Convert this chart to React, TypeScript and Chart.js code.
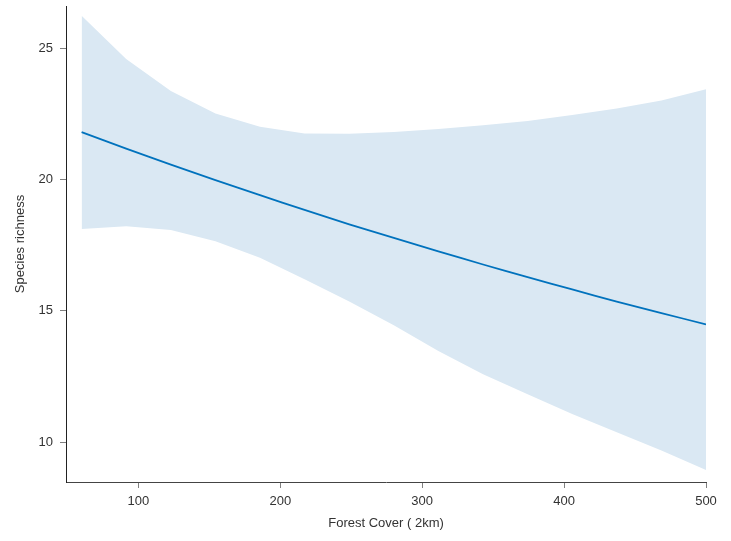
import React, { useEffect, useRef } from "react";
import { Chart, registerables } from "chart.js";

Chart.register(...registerables);

// Forest cover (2km) sample positions
const forestCover = [60, 91.4, 122.9, 154.3, 185.7, 217.1, 248.6, 280, 311.4, 342.9, 374.3, 405.7, 437.1, 468.6, 500];
// Fitted species richness
const fitted = [21.8, 21.17, 20.56, 19.97, 19.4, 18.84, 18.29, 17.77, 17.26, 16.76, 16.28, 15.81, 15.35, 14.91, 14.48];
// Confidence band
const upperCI = [26.23, 24.58, 23.36, 22.51, 22.0, 21.75, 21.74, 21.8, 21.92, 22.06, 22.22, 22.45, 22.7, 23.0, 23.43];
const lowerCI = [18.11, 18.22, 18.07, 17.64, 17.02, 16.2, 15.35, 14.45, 13.47, 12.58, 11.82, 11.07, 10.37, 9.68, 8.94];
// Tick labels
const xTicks = [100, 200, 300, 400, 500];
const yTicks = [10, 15, 20, 25];

const LINE = "rgb(0,114,189)";
const BAND = "rgb(218,232,243)";
const FONT = "'Liberation Sans', Arial, Helvetica, sans-serif";

export default function App() {
  const ref = useRef<HTMLCanvasElement | null>(null);

  useEffect(() => {
    if (!ref.current) return;
    const pts = (ys: number[]) => forestCover.map((x, i) => ({ x, y: ys[i] }));
    const chart = new Chart(ref.current, {
      type: "line",
      data: {
        datasets: [
          {
            label: "fit",
            data: pts(fitted),
            borderColor: LINE,
            borderWidth: 1.8,
            pointRadius: 0,
            tension: 0.3,
            fill: false,
          },
          {
            label: "lower",
            data: pts(lowerCI),
            borderWidth: 0,
            borderColor: "rgba(0,0,0,0)",
            pointRadius: 0,
            tension: 0,
            fill: false,
          },
          {
            label: "upper",
            data: pts(upperCI),
            borderWidth: 0,
            borderColor: "rgba(0,0,0,0)",
            backgroundColor: BAND,
            pointRadius: 0,
            tension: 0,
            fill: "-1",
          },
        ],
      },
      options: {
        responsive: false,
        animation: false,
        layout: { padding: { top: 6, right: 25, left: 0, bottom: 0 } },
        plugins: {
          legend: { display: false },
          tooltip: { enabled: false },
        },
        scales: {
          x: {
            type: "linear",
            min: 49,
            max: 500,
            afterBuildTicks: (s: any) => {
              s.ticks = xTicks.map((v) => ({ value: v }));
            },
            afterFit: (s: any) => {
              s.height = 59;
              s.paddingLeft = 0;
              s.paddingRight = 0;
            },
            grid: {
              display: true,
              drawOnChartArea: false,
              drawTicks: true,
              tickLength: 6,
              color: "#808080",
            },
            border: { display: true, color: "#444", width: 1 },
            ticks: {
              padding: 6,
              color: "#333",
              font: { family: FONT, size: 13 },
              maxRotation: 0,
            },
            title: {
              display: true,
              text: "Forest Cover ( 2km)",
              color: "#333",
              font: { family: FONT, size: 13 },
              padding: { top: 0, bottom: 10 },
            },
          },
          y: {
            type: "linear",
            min: 8.48,
            max: 26.6,
            afterBuildTicks: (s: any) => {
              s.ticks = yTicks.map((v) => ({ value: v }));
            },
            afterFit: (s: any) => {
              s.width = 66;
              s.paddingTop = 0;
              s.paddingBottom = 0;
            },
            grid: {
              display: true,
              drawOnChartArea: false,
              drawTicks: true,
              tickLength: 6,
              color: "#808080",
            },
            border: { display: true, color: "#222", width: 1 },
            ticks: {
              padding: 7,
              color: "#333",
              font: { family: FONT, size: 13 },
            },
            title: {
              display: true,
              text: "Species richness",
              color: "#333",
              font: { family: FONT, size: 13 },
              padding: { top: 13, bottom: 0 },
            },
          },
        },
      },
    });
    return () => chart.destroy();
  }, []);

  return (
    <div style={{ position: "fixed", left: 0, top: 0, width: 731, height: 541, background: "#fff" }}>
      <canvas ref={ref} width={731} height={541} />
    </div>
  );
}
